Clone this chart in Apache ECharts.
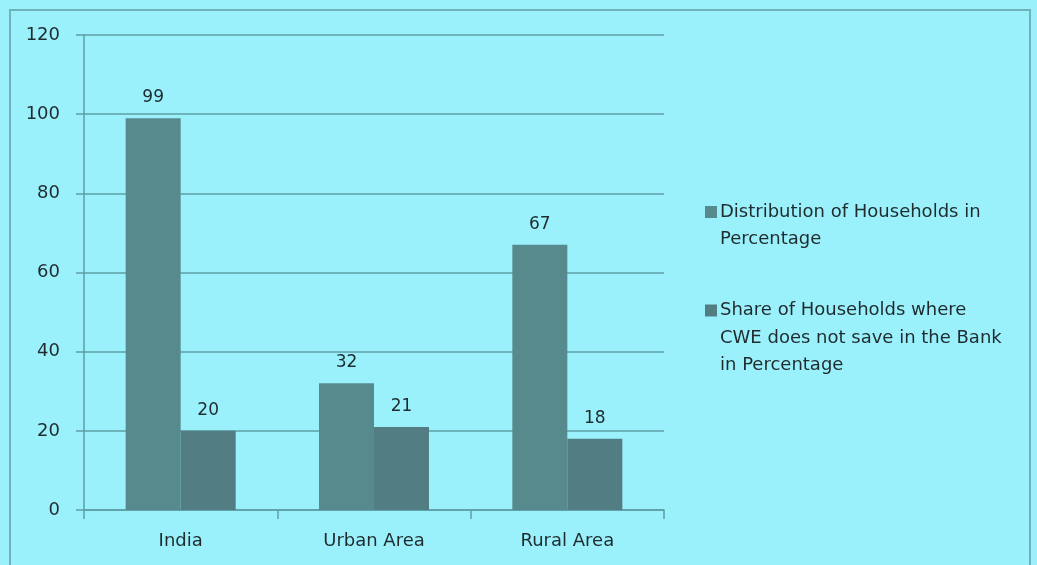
<!DOCTYPE html>
<html>
<head>
<meta charset="utf-8">
<script src="https://cdn.jsdelivr.net/npm/echarts@6/dist/echarts.min.js"></script>
<style>
  html, body { margin: 0; padding: 0; background: #9af1fc; }
  #chart { width: 1037px; height: 565px; }
</style>
</head>
<body>
<div id="chart"></div>
<script>
const categories = ["India", "Urban Area", "Rural Area"];
const distribution = [99, 32, 67];
const shareNotSave = [20, 21, 18];
const yTicks = [0, 20, 40, 60, 80, 100, 120];
const seriesNames = [
  "Distribution of Households in\nPercentage",
  "Share of Households where\nCWE does not save in the Bank\nin Percentage"
];

const fontFam = "'DejaVu Sans', sans-serif";
const textColor = "#1f2b2d";
const barColors = ["#578a8d", "#527e83"];

let myChart = echarts.init(document.getElementById("chart"));

let option = {
  backgroundColor: "#9af1fc",
  animation: false,
  graphic: [
    {
      type: "rect",
      shape: { x: 10, y: 10, width: 1020, height: 560 },
      style: { fill: "none", stroke: "#6fb2ba", lineWidth: 2 },
    },
  ],
  grid: {
    left: 84,
    right: 373,
    top: 35,
    bottom: 55,
  },
  legend: {
    orient: "vertical",
    left: 695,
    top: 198,
    itemGap: 53,
    itemWidth: 0,
    itemHeight: 0,
    icon: "rect",
    data: seriesNames,
    formatter: function (name) {
      // square only in front of first line, others indented
      const idx = seriesNames.indexOf(name);
      const lines = name.split("\n");
      return "{sq" + idx + "|}" + "{t|" + lines[0] + "}" +
        lines.slice(1).map((l) => "\n{c|" + l + "}").join("");
    },
    textStyle: {
      rich: {
        sq0: { width: 12, height: 12, backgroundColor: barColors[0] },
        sq1: { width: 12, height: 12, backgroundColor: barColors[1] },
        t: {
          fontFamily: fontFam,
          fontSize: 18,
          color: textColor,
          lineHeight: 27.5,
          padding: [0, 0, 0, 3],
        },
        c: {
          fontFamily: fontFam,
          fontSize: 18,
          color: textColor,
          lineHeight: 27.5,
          padding: [0, 0, 0, 15],
        },
      },
    },
  },
  xAxis: {
    type: "category",
    data: categories,
    axisLine: { lineStyle: { color: "#5e9ea5", width: 1.5 } },
    axisTick: { show: true, length: 9, lineStyle: { color: "#5e9ea5", width: 1.5 } },
    axisLabel: {
      fontFamily: fontFam,
      fontSize: 18,
      color: textColor,
      margin: 22,
    },
  },
  yAxis: {
    type: "value",
    min: yTicks[0],
    max: yTicks[yTicks.length - 1],
    interval: 20,
    axisLine: { show: true, lineStyle: { color: "#5e9ea5", width: 1.5 } },
    axisTick: { show: true, length: 8, lineStyle: { color: "#5e9ea5", width: 1.5 } },
    splitLine: { show: true, lineStyle: { color: "#5e9ea5", width: 1.5 } },
    axisLabel: {
      fontFamily: fontFam,
      fontSize: 18,
      color: textColor,
      margin: 24,
    },
  },
  series: [
    {
      name: seriesNames[0],
      type: "bar",
      data: distribution,
      barWidth: 55,
      barGap: "0%",
      itemStyle: { color: barColors[0] },
      label: {
        show: true,
        position: "top",
        distance: 12,
        fontFamily: fontFam,
        fontSize: 17,
        color: textColor,
      },
    },
    {
      name: seriesNames[1],
      type: "bar",
      data: shareNotSave,
      barWidth: 55,
      barGap: "0%",
      itemStyle: { color: barColors[1] },
      label: {
        show: true,
        position: "top",
        distance: 12,
        fontFamily: fontFam,
        fontSize: 17,
        color: textColor,
      },
    },
  ],
};

myChart.setOption(option);
</script>
</body>
</html>
